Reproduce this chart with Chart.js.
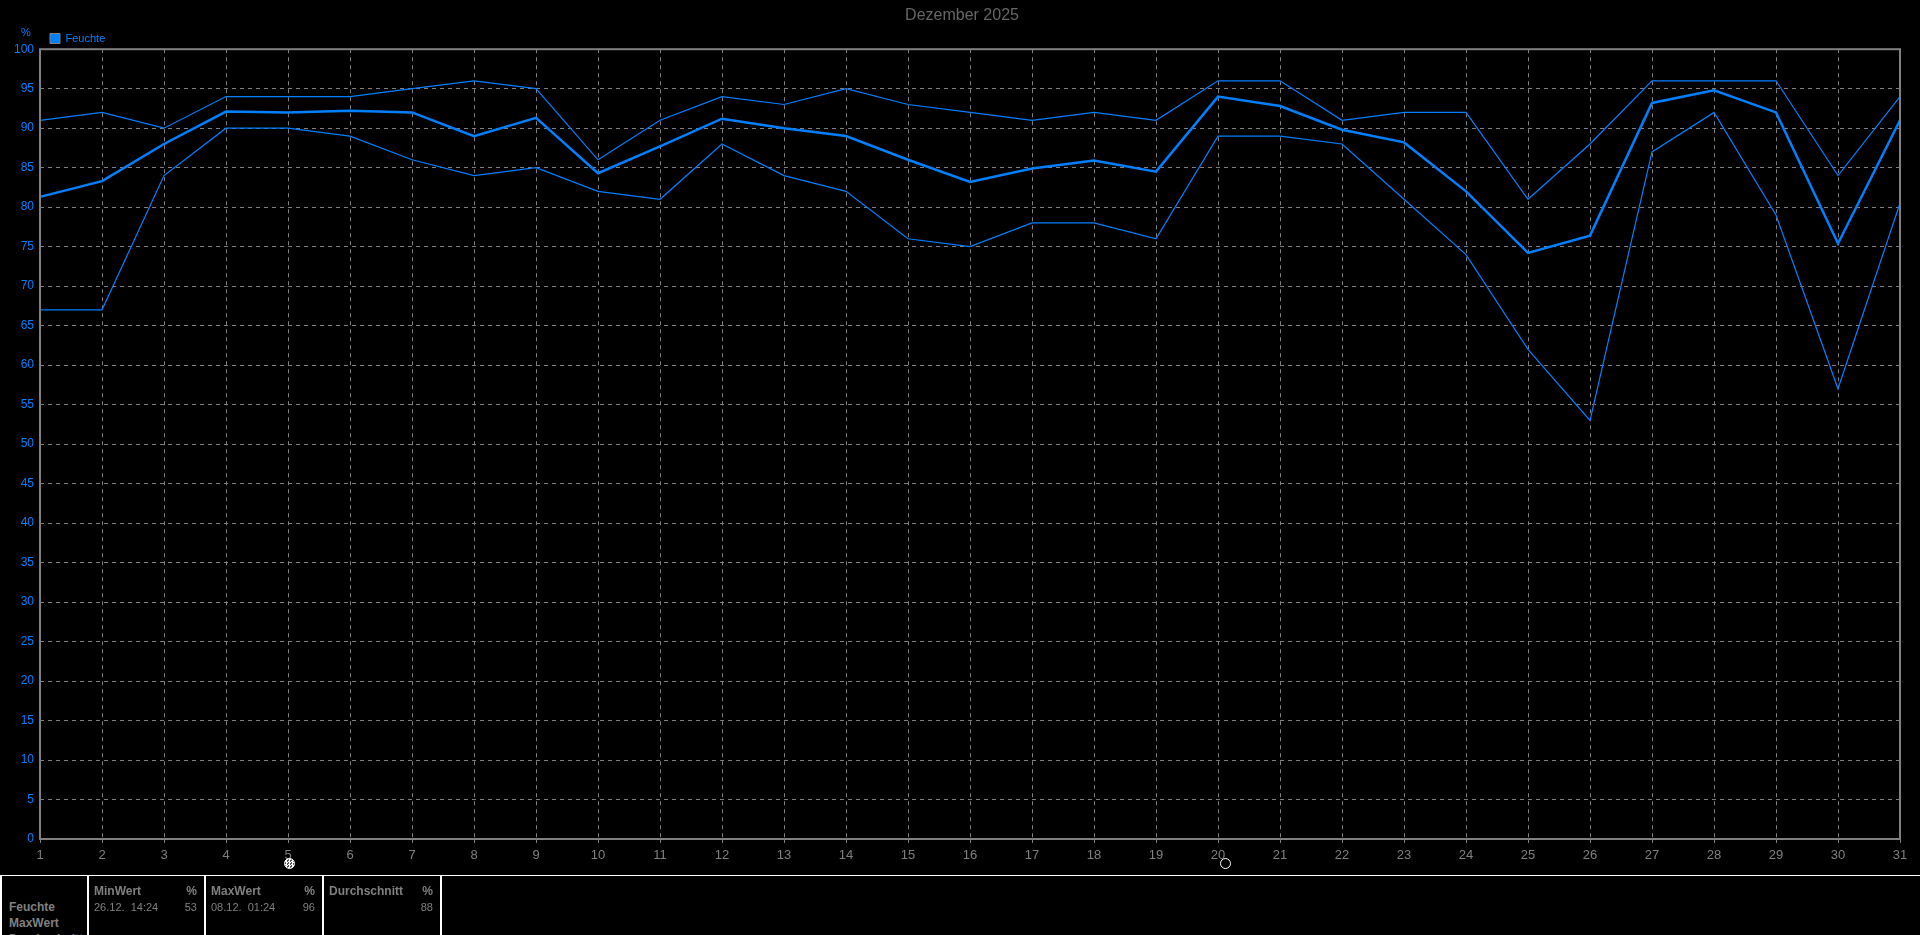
<!DOCTYPE html>
<html>
<head>
<meta charset="utf-8">
<title>Dezember 2025</title>
<script src="https://cdn.jsdelivr.net/npm/chart.js@4"></script>
<style>
    html, body { margin: 0; height: 100%; background: #000; overflow: hidden; }
    #wrap { position: absolute; left: 0; top: 0; width: 1920px; height: 875px; }
    #stats { position: absolute; left: 0; top: 875px; width: 1920px; height: 60px; border-top: 1px solid #fff; box-sizing: border-box; overflow: hidden; font: 11px "Liberation Sans", sans-serif; color: #808080; }
    .cell { position: absolute; top: 0; height: 60px; box-sizing: border-box; border-right: 2px solid #fff; }
    .cell span { position: absolute; white-space: pre; }
    .cell b { position: absolute; white-space: pre; font-size: 12px; }
    .moon { position: absolute; top: 858px; width: 11px; height: 11px; border-radius: 50%; box-sizing: border-box; }
    #newMoon { left: 284px; background: repeating-conic-gradient(#fff 0 25%, #555 0 50%) 0 0 / 3px 3px; border: 1px solid #fff; }
    #fullMoon { left: 1220px; border: 1px solid #fff; background: #000; }
</style>
</head>
<body>
<div id="wrap"><canvas id="humidityChart"></canvas></div>
<div class="moon" id="newMoon"></div>
<div class="moon" id="fullMoon"></div>
<div id="stats"></div>
<script>
const days = ['1','2','3','4','5','6','7','8','9','10','11','12','13','14','15','16','17','18','19','20','21','22','23','24','25','26','27','28','29','30','31'];
const maxValues = [91,92,90,94,94,94,95,96,95,86,91,94,93,95,93,92,91,92,91,96,96,91,92,92,81,88,96,96,96,84,94];
const avgValues = [81.3,83.3,88,92.1,92,92.2,92,89,91.3,84.3,87.7,91.2,90,89,86,83.2,84.9,85.9,84.5,94,92.8,89.8,88.2,82,74.2,76.4,93.2,94.8,92,75.4,91];
const minValues = [67,67,84,90,90,89,86,84,85,82,81,88,84,82,76,75,78,78,76,89,89,88,81,74,62,53,87,92,79,57,80.5];

const rowLabels = ['Feuchte', 'MaxWert', 'Durchschnitt'];
const statTitles = ['MinWert', 'MaxWert', 'Durchschnitt'];
const statWhen = ['26.12.  14:24', '08.12.  01:24', ''];
const statValues = ['53', '96', '88'];
const statEdges = [87, 204, 322, 440];

const blue = '#0080ff';
const gray = '#808080';

// rahmen ums diagramm + einheit ueber der y-achse
const framePlugin = {
    id: 'frame',
    beforeDraw(chart) {
        // titel und legende sitzen nicht dort, wo das layout sie hinlegt
        chart.titleBlock.left = 24;
        chart.legend.left = 48;
        chart.legend.top = 31;
    },
    afterDraw(chart) {
        const { ctx, chartArea: a } = chart;
        ctx.save();
        ctx.strokeStyle = gray;
        ctx.lineWidth = 2;
        ctx.strokeRect(a.left, a.top, a.right - a.left, a.bottom - a.top);
        ctx.fillStyle = blue;
        ctx.font = '11px "Liberation Sans"';
        ctx.textAlign = 'center';
        ctx.textBaseline = 'middle';
        ctx.fillText('%', 26, 33);
        ctx.restore();
    }
};

new Chart(document.getElementById('humidityChart'), {
    type: 'line',
    data: {
        labels: days,
        datasets: [
            { label: 'Feuchte', data: avgValues, borderColor: blue, backgroundColor: blue, borderWidth: 2.5 },
            { label: 'MaxWert', data: maxValues, borderColor: blue, backgroundColor: blue, borderWidth: 1.2 },
            { label: 'MinWert', data: minValues, borderColor: blue, backgroundColor: blue, borderWidth: 1.2 }
        ]
    },
    plugins: [framePlugin],
    options: {
        responsive: true,
        maintainAspectRatio: false,
        animation: false,
        elements: { point: { radius: 0 }, line: { tension: 0 } },
        layout: { padding: { left: 0, right: 20, top: 0, bottom: 0 } },
        plugins: {
            title: {
                display: true,
                text: 'Dezember 2025',
                color: '#666',
                font: { family: 'Liberation Sans', size: 16, weight: 'normal' },
                padding: { top: 6, bottom: 1 }
            },
            legend: {
                display: true,
                align: 'start',
                labels: {
                    generateLabels: () => [{ text: 'Feuchte', fillStyle: blue, strokeStyle: gray, lineWidth: 1, fontColor: blue, datasetIndex: 0 }],
                    color: blue,
                    boxWidth: 10,
                    boxHeight: 10,
                    padding: 2,
                    font: { family: 'Liberation Sans', size: 11 }
                }
            },
            tooltip: { enabled: false }
        },
        scales: {
            x: {
                grid: { color: gray, tickLength: 4, tickColor: gray },
                border: { dash: [4, 4], display: false },
                ticks: { color: gray, autoSkip: false, maxRotation: 0, padding: 5, font: { family: 'Liberation Sans', size: 13 } },
                afterFit(scale) { scale.height = 36; }
            },
            y: {
                min: 0,
                max: 100,
                grid: { color: gray, drawTicks: false },
                border: { dash: [4, 4], display: false },
                ticks: { stepSize: 5, color: blue, padding: 6, font: { family: 'Liberation Sans', size: 12 } },
                afterFit(scale) { scale.width = 40; }
            }
        }
    }
});

// statistik-tabelle unten
const stats = document.getElementById('stats');
function addText(cell, tag, text, css) {
    const el = document.createElement(tag);
    el.textContent = text;
    el.style.cssText = css;
    cell.appendChild(el);
}
const first = document.createElement('div');
first.className = 'cell';
first.style.cssText = 'left:0;width:' + (statEdges[0] + 2) + 'px;border-left:2px solid #fff;';
rowLabels.forEach((t, i) => addText(first, 'b', t, 'left:7px;top:' + (24 + i * 16) + 'px;'));
stats.appendChild(first);
statTitles.forEach((t, i) => {
    const cell = document.createElement('div');
    cell.className = 'cell';
    const w = statEdges[i + 1] - statEdges[i];
    cell.style.cssText = 'left:' + (statEdges[i] + 2) + 'px;width:' + w + 'px;';
    addText(cell, 'b', t, 'left:5px;top:8px;');
    addText(cell, 'b', '%', 'right:7px;top:8px;');
    addText(cell, 'span', statWhen[i], 'left:5px;top:25px;');
    addText(cell, 'span', statValues[i], 'right:7px;top:25px;');
    stats.appendChild(cell);
});
</script>
</body>
</html>
